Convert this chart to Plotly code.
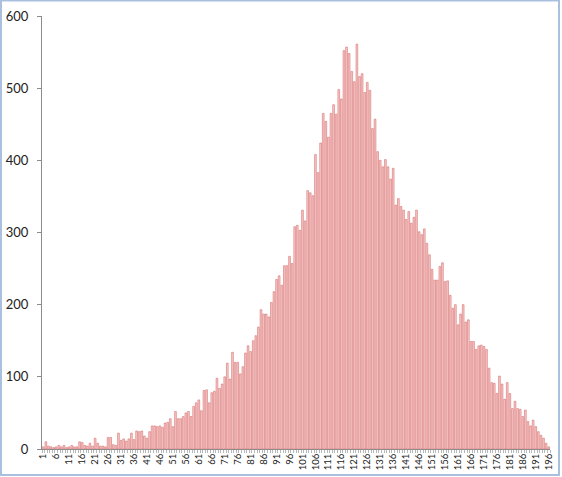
import plotly.graph_objects as go

categories = list(range(1, 197))

values = [
    3, 10, 4, 3, 2, 3, 5, 3, 5, 2,
    3, 5, 3, 3, 10, 9, 5, 4, 8, 4,
    15, 8, 4, 4, 3, 16, 16, 6, 5, 22,
    12, 14, 11, 14, 22, 13, 25, 24, 25, 18,
    15, 24, 32, 32, 31, 32, 30, 36, 37, 42,
    31, 52, 42, 42, 45, 50, 52, 45, 59, 64,
    68, 53, 81, 82, 64, 78, 80, 98, 84, 90,
    100, 119, 97, 134, 120, 120, 104, 114, 133, 143,
    135, 150, 157, 169, 193, 187, 187, 183, 203, 218,
    235, 240, 227, 254, 254, 267, 257, 308, 310, 303,
    331, 316, 358, 355, 351, 408, 383, 424, 465, 454,
    432, 465, 477, 464, 498, 485, 552, 557, 548, 523,
    509, 561, 516, 520, 494, 508, 497, 444, 457, 412,
    400, 391, 401, 391, 374, 389, 338, 347, 336, 331,
    318, 329, 313, 321, 331, 301, 297, 305, 285, 269,
    249, 234, 234, 253, 258, 232, 233, 213, 195, 200,
    172, 187, 200, 176, 179, 149, 149, 138, 143, 144,
    142, 138, 112, 92, 91, 77, 101, 90, 69, 92,
    77, 56, 66, 56, 55, 45, 54, 38, 32, 40,
    31, 24, 19, 15, 8, 3,
]

x_tick_values = [1, 6, 11, 16, 21, 26, 31, 36, 41, 46, 51, 56, 61, 66, 71, 76,
                 81, 86, 91, 96, 101, 106, 111, 116, 121, 126, 131, 136, 141,
                 146, 151, 156, 161, 166, 171, 176, 181, 186, 191, 196]
x_tick_labels = ["1", "6", "11", "16", "21", "26", "31", "36", "41", "46", "51",
                 "56", "61", "66", "71", "76", "81", "86", "91", "96", "101",
                 "106", "111", "116", "121", "126", "131", "136", "141", "146",
                 "151", "156", "161", "166", "171", "176", "181", "186", "191",
                 "196"]
y_tick_values = [0, 100, 200, 300, 400, 500, 600]

W, H = 562, 477
ML, MR, MT, MB = 42, 12, 16, 28
pw = W - ML - MR
ph = H - MT - MB

fig = go.Figure(
    go.Bar(
        x=categories,
        y=values,
        marker=dict(color="#f7caca", line=dict(color="#d87070", width=0.6)),
        hoverinfo="x+y",
    )
)

fig.update_layout(
    width=W,
    height=H,
    margin=dict(l=ML, r=MR, t=MT, b=MB, autoexpand=False),
    paper_bgcolor="white",
    plot_bgcolor="white",
    bargap=0.33,
    showlegend=False,
    font=dict(family="Lato, Open Sans, sans-serif", color="#222222"),
)

fig.update_xaxes(
    range=[0.5, 196.5],
    automargin=False,
    tickmode="array",
    tickvals=x_tick_values,
    ticktext=x_tick_labels,
    tickangle=-90,
    tickfont=dict(size=9.5, color="#222222"),
    ticks="",
    showgrid=False,
    zeroline=False,
    showline=True,
    linecolor="#8c8c8c",
    linewidth=1,
    minor=dict(ticks="outside", tick0=0.5, dtick=1, ticklen=3,
               tickcolor="#b8b8b8", showgrid=False),
)

fig.update_yaxes(
    range=[0, 600],
    automargin=False,
    tickmode="array",
    tickvals=y_tick_values,
    tickfont=dict(size=13, color="#222222"),
    ticks="outside",
    ticklen=4,
    tickcolor="#8c8c8c",
    ticklabelstandoff=6,
    showgrid=False,
    zeroline=False,
    showline=True,
    linecolor="#8c8c8c",
    linewidth=1,
)

# outer chart-area border
fig.add_shape(
    type="rect",
    xref="paper", yref="paper",
    x0=(1 - ML) / pw, x1=(559 - ML) / pw,
    y0=(H - MB - 475) / ph, y1=(H - MB - 0.5) / ph,
    line=dict(color="#a9c1df", width=2),
    fillcolor="rgba(0,0,0,0)",
    layer="below",
)

fig.write_html(
    "out.html",
    config={"displayModeBar": False},
    post_script="document.body.style.margin='0';document.body.style.overflow='hidden';",
)
